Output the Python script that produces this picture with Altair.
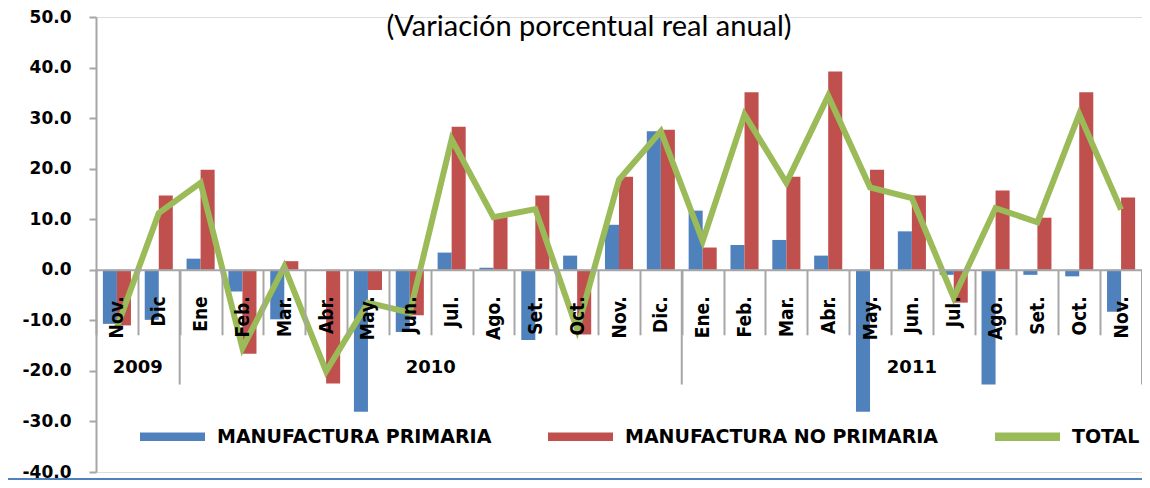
import altair as alt
import pandas as pd

months = ["Nov.", "Dic", "Ene", "Feb.", "Mar.", "Abr.", "May.", "Jun.", "Jul.", "Ago.", "Set.", "Oct.",
          "Nov.", "Dic.", "Ene.", "Feb.", "Mar.", "Abr.", "May.", "Jun.", "Jul.", "Ago.", "Set.", "Oct.", "Nov."]
years = [2009, 2009] + [2010] * 12 + [2011] * 11
primaria = [-10.7, -9.9, 2.2, -4.3, -9.8, 0.0, -28.1, -12.3, 3.4, 0.4, -13.9, 2.8, 8.9,
            27.4, 11.7, 4.9, 5.9, 2.8, -28.1, 7.6, -1.0, -22.7, -1.0, -1.3, -8.3]
no_primaria = [-11.0, 14.7, 19.8, -16.6, 1.7, -22.5, -4.0, -9.0, 28.3, 10.6, 14.7, -12.8, 18.4,
               27.7, 4.4, 35.1, 18.4, 39.2, 19.8, 14.7, -6.5, 15.7, 10.3, 35.1, 14.3]
total = [-11.4, 11.2, 17.2, -15.5, 0.6, -20.1, -6.5, -8.5, 25.8, 10.4, 12.0, -11.8, 17.8,
         27.4, 5.7, 30.7, 17.2, 34.4, 16.3, 14.2, -5.5, 12.2, 9.4, 30.8, 11.9]
year_labels = ["2009", "2010", "2011"]
year_anchor_idx = [0, 7, 19]
year_anchor_band = [1.0, 1.0, 0.5]
boundary_idx = [1, 13, 24]
title_text = ["(Variación porcentual real anual)"]

S1, S2, S3 = "MANUFACTURA PRIMARIA", "MANUFACTURA NO PRIMARIA", "TOTAL"
colors = ["#4F81BD", "#C0504D", "#9BBB59"]

keys = [f"{m} {y}" for m, y in zip(months, years)]

bars_df = pd.DataFrame(
    [{"key": k, "serie": S1, "valor": v} for k, v in zip(keys, primaria)]
    + [{"key": k, "serie": S2, "valor": v} for k, v in zip(keys, no_primaria)]
)
line_df = pd.DataFrame({"key": keys, "valor": total})
years_df = pd.DataFrame({"key": [keys[i] for i in year_anchor_idx], "label": year_labels,
                         "bp": year_anchor_band})
bound_df = pd.DataFrame({"key": [keys[i] for i in boundary_idx]})
title_df = pd.DataFrame({"t": title_text})

W, H = 1046, 455
YMIN, YMAX = -40, 50
zero_off = H * (0 - YMIN) / (YMAX - YMIN)
grey = "#A6A6A6"
label_font = "'DejaVu Sans Condensed', 'Liberation Sans', sans-serif"

xscale = alt.Scale(domain=keys, paddingInner=0, paddingOuter=0)
yscale = alt.Scale(domain=[YMIN, YMAX], nice=False)

x_axis = alt.Axis(
    title=None, orient="bottom", offset=-zero_off, labelExpr="split(datum.label, ' ')[0]",
    labelAngle=270, labelAlign="right", labelBaseline="middle", tickBand="extent",
    tickSize=65, tickColor=grey, tickWidth=2, domainColor=grey, domainWidth=2,
    labelPadding=-39, labelFont=label_font, labelFontSize=19,
    labelFontWeight="bold", labelColor="black", labelOverlap=False, zindex=1,
)
y_axis = alt.Axis(
    title=None, values=list(range(-40, 51, 10)),
    labelExpr="(datum.value < 0 ? '-' : '') + format(abs(datum.value), '.1f')",
    labelFont="DejaVu Sans", labelFontWeight="bold", labelFontSize=17, labelColor="black",
    tickSize=7, tickColor=grey, tickWidth=2, domainColor=grey, domainWidth=2,
    labelPadding=18, grid=False,
)

bars = alt.Chart(bars_df).mark_bar().encode(
    x=alt.X("key:N", sort=keys, scale=xscale, axis=x_axis),
    xOffset=alt.XOffset("serie:N", sort=[S1, S2],
                        scale=alt.Scale(domain=[S1, S2], paddingInner=0, paddingOuter=0.49)),
    y=alt.Y("valor:Q", scale=yscale, axis=y_axis),
    color=alt.Color("serie:N", scale=alt.Scale(domain=[S1, S2, S3], range=colors),
                    legend=alt.Legend(
                        orient="none", legendX=44, legendY=387, direction="horizontal",
                        title=None, symbolType="M-1,-0.13H1V0.13H-1Z", symbolSize=4225,
                        symbolStrokeWidth=0, labelFont="DejaVu Sans", labelFontWeight="bold",
                        labelFontSize=19, labelColor="black", labelOffset=12,
                        columnPadding=56, padding=0, labelLimit=500)),
)

line = alt.Chart(line_df).mark_line(strokeWidth=6, color=colors[2]).encode(
    x=alt.X("key:N", sort=keys, scale=xscale),
    y=alt.Y("valor:Q", scale=yscale),
)

bounds = alt.Chart(bound_df).mark_rule(color=grey, strokeWidth=2).encode(
    x=alt.X("key:N", sort=keys, scale=xscale, bandPosition=1),
    y=alt.datum(0),
    y2=alt.datum(-22.7),
)

year_text = alt.Chart(years_df).transform_filter("datum.bp == 1").mark_text(
    font="DejaVu Sans", fontWeight="bold", fontSize=18, color="black", baseline="middle"
).encode(
    x=alt.X("key:N", sort=keys, scale=xscale, bandPosition=1),
    y=alt.datum(-19.5),
    text="label:N",
)
year_text_mid = alt.Chart(years_df).transform_filter("datum.bp == 0.5").mark_text(
    font="DejaVu Sans", fontWeight="bold", fontSize=18, color="black", baseline="middle"
).encode(
    x=alt.X("key:N", sort=keys, scale=xscale, bandPosition=0.5),
    y=alt.datum(-19.5),
    text="label:N",
)

title = alt.Chart(title_df).mark_text(
    font="Lato", fontSize=29, color="black", baseline="alphabetic", align="center"
).encode(x=alt.value(493), y=alt.value(19), text="t:N")

bottom_line = alt.Chart(line_df).mark_rule(color="#4F81BD", strokeWidth=2).encode(
    x=alt.value(-88), x2=alt.value(W), y=alt.value(H + 7),
)

chart = alt.layer(bounds, bars, line, year_text, year_text_mid, title, bottom_line).properties(
    width=W, height=H,
    autosize=alt.AutoSizeParams(type="none"),
    padding={"left": 88, "top": 9, "right": 0, "bottom": 8},
).configure_view(strokeWidth=0).configure(background="white")

chart.save("out.html", embed_options={"renderer": "svg", "actions": False})
